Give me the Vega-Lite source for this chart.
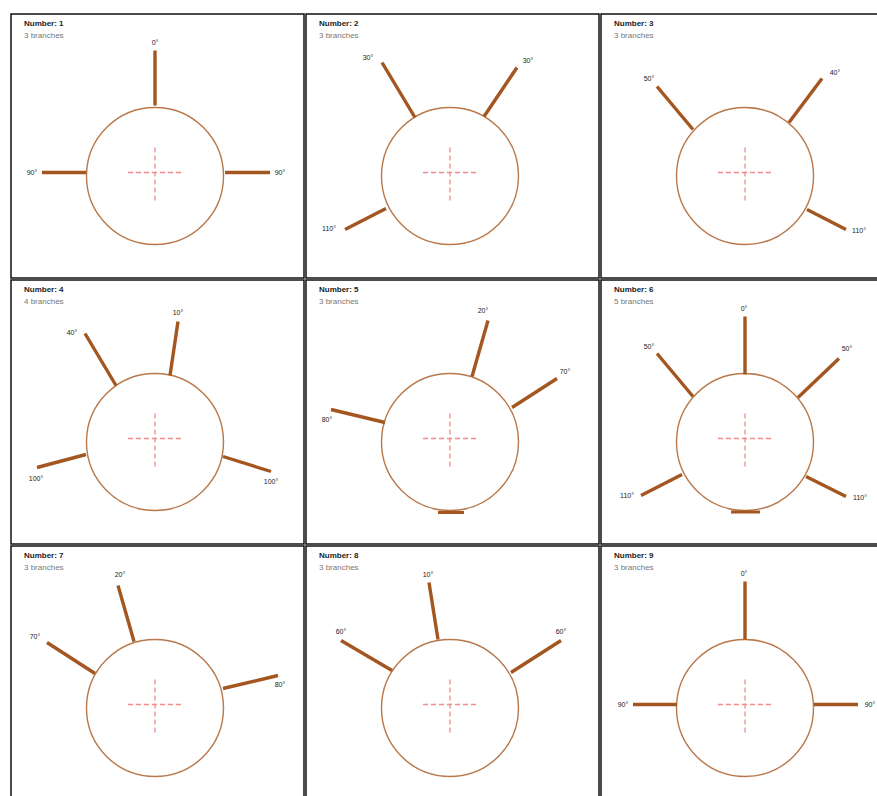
{
  "$schema": "https://vega.github.io/schema/vega-lite/v6.json",
  "padding": {"left": 10, "top": 13, "right": 0, "bottom": 0},
  "background": "white",
  "data": {"values": [
    {"r": 1, "c": 1, "kind": "panel", "title": "Number: 1", "sub": "3 branches"},
    {"r": 1, "c": 2, "kind": "panel", "title": "Number: 2", "sub": "3 branches"},
    {"r": 1, "c": 3, "kind": "panel", "title": "Number: 3", "sub": "3 branches"},
    {"r": 2, "c": 1, "kind": "panel", "title": "Number: 4", "sub": "4 branches"},
    {"r": 2, "c": 2, "kind": "panel", "title": "Number: 5", "sub": "3 branches"},
    {"r": 2, "c": 3, "kind": "panel", "title": "Number: 6", "sub": "5 branches"},
    {"r": 3, "c": 1, "kind": "panel", "title": "Number: 7", "sub": "3 branches"},
    {"r": 3, "c": 2, "kind": "panel", "title": "Number: 8", "sub": "3 branches"},
    {"r": 3, "c": 3, "kind": "panel", "title": "Number: 9", "sub": "3 branches"},

    {"r": 1, "c": 1, "kind": "branch", "x": 0, "y": 67, "x2": 0, "y2": 122, "label": "0°", "lx": 0, "ly": 130},
    {"r": 1, "c": 1, "kind": "branch", "x": -69, "y": 0, "x2": -113, "y2": 0, "label": "90°", "lx": -123, "ly": 0},
    {"r": 1, "c": 1, "kind": "branch", "x": 70, "y": 0, "x2": 115, "y2": 0, "label": "90°", "lx": 125, "ly": 0},

    {"r": 1, "c": 2, "kind": "branch", "x": -35, "y": 55, "x2": -68, "y2": 110, "label": "30°", "lx": -82, "ly": 115},
    {"r": 1, "c": 2, "kind": "branch", "x": 34, "y": 56, "x2": 67, "y2": 105, "label": "30°", "lx": 78, "ly": 112},
    {"r": 1, "c": 2, "kind": "branch", "x": -64, "y": -36, "x2": -105, "y2": -57, "label": "110°", "lx": -121, "ly": -56},

    {"r": 1, "c": 3, "kind": "branch", "x": -52, "y": 43, "x2": -88, "y2": 86, "label": "50°", "lx": -96, "ly": 94},
    {"r": 1, "c": 3, "kind": "branch", "x": 44, "y": 50, "x2": 77, "y2": 94, "label": "40°", "lx": 90, "ly": 100},
    {"r": 1, "c": 3, "kind": "branch", "x": 62, "y": -37, "x2": 101, "y2": -57, "label": "110°", "lx": 114, "ly": -58},

    {"r": 2, "c": 1, "kind": "branch", "x": 15, "y": 63, "x2": 23, "y2": 117, "label": "10°", "lx": 23, "ly": 126},
    {"r": 2, "c": 1, "kind": "branch", "x": -39, "y": 53, "x2": -70, "y2": 105, "label": "40°", "lx": -83, "ly": 106},
    {"r": 2, "c": 1, "kind": "branch", "x": -69, "y": -16, "x2": -118, "y2": -29, "label": "100°", "lx": -119, "ly": -40},
    {"r": 2, "c": 1, "kind": "branch", "x": 68, "y": -18, "x2": 116, "y2": -33, "label": "100°", "lx": 116, "ly": -43},

    {"r": 2, "c": 2, "kind": "branch", "x": 22, "y": 62, "x2": 38, "y2": 118, "label": "20°", "lx": 33, "ly": 128},
    {"r": 2, "c": 2, "kind": "branch", "x": 62, "y": 31, "x2": 107, "y2": 60, "label": "70°", "lx": 115, "ly": 67},
    {"r": 2, "c": 2, "kind": "branch", "x": -65, "y": 16, "x2": -119, "y2": 29, "label": "80°", "lx": -123, "ly": 19},
    {"r": 2, "c": 2, "kind": "base", "x": -12, "x2": 14, "y": -74},

    {"r": 2, "c": 3, "kind": "branch", "x": 0, "y": 64, "x2": 0, "y2": 122, "label": "0°", "lx": -1, "ly": 130},
    {"r": 2, "c": 3, "kind": "branch", "x": -52, "y": 42, "x2": -88, "y2": 85, "label": "50°", "lx": -96, "ly": 92},
    {"r": 2, "c": 3, "kind": "branch", "x": 53, "y": 41, "x2": 94, "y2": 80, "label": "50°", "lx": 102, "ly": 90},
    {"r": 2, "c": 3, "kind": "branch", "x": -63, "y": -36, "x2": -104, "y2": -57, "label": "110°", "lx": -118, "ly": -57},
    {"r": 2, "c": 3, "kind": "branch", "x": 61, "y": -38, "x2": 101, "y2": -58, "label": "110°", "lx": 115, "ly": -59},
    {"r": 2, "c": 3, "kind": "base", "x": -14, "x2": 15, "y": -73.5},

    {"r": 3, "c": 1, "kind": "branch", "x": -21, "y": 63, "x2": -37, "y2": 119, "label": "20°", "lx": -35, "ly": 130},
    {"r": 3, "c": 1, "kind": "branch", "x": -60, "y": 31, "x2": -108, "y2": 62, "label": "70°", "lx": -120, "ly": 68},
    {"r": 3, "c": 1, "kind": "branch", "x": 68, "y": 16, "x2": 123, "y2": 29, "label": "80°", "lx": 125, "ly": 20},

    {"r": 3, "c": 2, "kind": "branch", "x": -12, "y": 65, "x2": -21, "y2": 122, "label": "10°", "lx": -22, "ly": 130},
    {"r": 3, "c": 2, "kind": "branch", "x": -58, "y": 34, "x2": -109, "y2": 64, "label": "60°", "lx": -109, "ly": 73},
    {"r": 3, "c": 2, "kind": "branch", "x": 61, "y": 32, "x2": 111, "y2": 64, "label": "60°", "lx": 111, "ly": 73},

    {"r": 3, "c": 3, "kind": "branch", "x": 0, "y": 65, "x2": 0, "y2": 123, "label": "0°", "lx": -1, "ly": 131},
    {"r": 3, "c": 3, "kind": "branch", "x": -68, "y": 0, "x2": -112, "y2": 0, "label": "90°", "lx": -122, "ly": 0},
    {"r": 3, "c": 3, "kind": "branch", "x": 69, "y": 0, "x2": 113, "y2": 0, "label": "90°", "lx": 125, "ly": 0}
  ]},
  "facet": {
    "row": {"field": "r", "type": "ordinal", "header": null},
    "column": {"field": "c", "type": "ordinal", "header": null}
  },
  "spacing": {"row": 0, "column": 0},
  "spec": {
    "width": 293,
    "height": 264,
    "layer": [
      {
        "transform": [{"filter": "datum.kind === 'panel'"}],
        "mark": {"type": "point", "shape": "circle", "filled": false, "size": 18769, "stroke": "#b8784a", "strokeWidth": 1.4, "opacity": 1},
        "encoding": {
          "x": {"datum": 0, "type": "quantitative", "scale": {"domain": [-144, 149], "nice": false, "zero": false}, "axis": null},
          "y": {"datum": -3.5, "type": "quantitative", "scale": {"domain": [-105.5, 158.5], "nice": false, "zero": false}, "axis": null}
        }
      },
      {
        "transform": [{"filter": "datum.kind === 'panel'"}],
        "mark": {"type": "rule", "color": "#f28b8b", "strokeWidth": 1.3, "strokeDash": [5, 3]},
        "encoding": {
          "x": {"datum": -27, "type": "quantitative", "scale": {"domain": [-144, 149], "nice": false, "zero": false}, "axis": null},
          "x2": {"datum": 28},
          "y": {"datum": 0, "type": "quantitative", "scale": {"domain": [-105.5, 158.5], "nice": false, "zero": false}, "axis": null}
        }
      },
      {
        "transform": [{"filter": "datum.kind === 'panel'"}],
        "mark": {"type": "rule", "color": "#f28b8b", "strokeWidth": 1.3, "strokeDash": [5, 3]},
        "encoding": {
          "x": {"datum": 0, "type": "quantitative", "scale": {"domain": [-144, 149], "nice": false, "zero": false}, "axis": null},
          "y": {"datum": -28, "type": "quantitative", "scale": {"domain": [-105.5, 158.5], "nice": false, "zero": false}, "axis": null},
          "y2": {"datum": 28}
        }
      },
      {
        "transform": [{"filter": "datum.kind === 'branch'"}],
        "mark": {"type": "rule", "color": "#a3561f", "strokeWidth": 3.4, "strokeCap": "butt"},
        "encoding": {
          "x": {"field": "x", "type": "quantitative", "scale": {"domain": [-144, 149], "nice": false, "zero": false}, "axis": null},
          "y": {"field": "y", "type": "quantitative", "scale": {"domain": [-105.5, 158.5], "nice": false, "zero": false}, "axis": null},
          "x2": {"field": "x2"},
          "y2": {"field": "y2"}
        }
      },
      {
        "transform": [{"filter": "datum.kind === 'base'"}],
        "mark": {"type": "rule", "color": "#a3561f", "strokeWidth": 3, "strokeCap": "butt"},
        "encoding": {
          "x": {"field": "x", "type": "quantitative", "scale": {"domain": [-144, 149], "nice": false, "zero": false}, "axis": null},
          "x2": {"field": "x2"},
          "y": {"field": "y", "type": "quantitative", "scale": {"domain": [-105.5, 158.5], "nice": false, "zero": false}, "axis": null}
        }
      },
      {
        "transform": [{"filter": "datum.kind === 'branch'"}],
        "mark": {"type": "text", "fontSize": 7, "font": "Liberation Sans", "color": "#222222", "align": "center", "baseline": "middle"},
        "encoding": {
          "x": {"field": "lx", "type": "quantitative", "scale": {"domain": [-144, 149], "nice": false, "zero": false}, "axis": null},
          "y": {"field": "ly", "type": "quantitative", "scale": {"domain": [-105.5, 158.5], "nice": false, "zero": false}, "axis": null},
          "text": {"field": "label"}
        }
      },
      {
        "transform": [{"filter": "datum.kind === 'panel'"}],
        "mark": {"type": "text", "fontSize": 8, "font": "Liberation Sans", "fontWeight": "bold", "color": "#222222", "align": "left", "baseline": "middle"},
        "encoding": {
          "x": {"datum": -131, "type": "quantitative", "scale": {"domain": [-144, 149], "nice": false, "zero": false}, "axis": null},
          "y": {"datum": 149, "type": "quantitative", "scale": {"domain": [-105.5, 158.5], "nice": false, "zero": false}, "axis": null},
          "text": {"field": "title"}
        }
      },
      {
        "transform": [{"filter": "datum.kind === 'panel'"}],
        "mark": {"type": "text", "fontSize": 8, "font": "Liberation Sans", "color": "#777777", "align": "left", "baseline": "middle"},
        "encoding": {
          "x": {"datum": -131, "type": "quantitative", "scale": {"domain": [-144, 149], "nice": false, "zero": false}, "axis": null},
          "y": {"datum": 136.5, "type": "quantitative", "scale": {"domain": [-105.5, 158.5], "nice": false, "zero": false}, "axis": null},
          "text": {"field": "sub"}
        }
      }
    ]
  },
  "config": {
    "view": {"stroke": "#111111", "strokeWidth": 1.5, "fill": "white"},
    "axis": {"disable": true}
  }
}
